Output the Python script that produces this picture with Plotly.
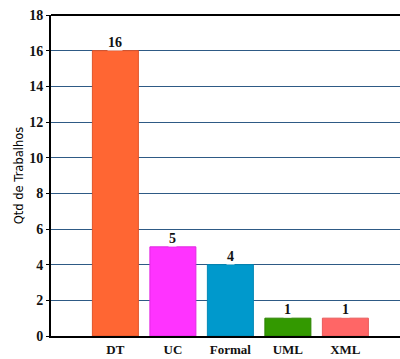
import plotly.graph_objects as go

categories = ["DT", "UC", "Formal", "UML", "XML"]
values = [16, 5, 4, 1, 1]
colors = ["#FF6633", "#FF33FF", "#0099CC", "#339900", "#FF6666"]
border_colors = ["#E0552A", "#E02AE0", "#0088B5", "#2B8200", "#E85A5A"]
y_ticks = [0, 2, 4, 6, 8, 10, 12, 14, 16, 18]

SERIF = "Liberation Serif, Times New Roman, serif"

fig = go.Figure()
fig.add_trace(go.Bar(
    x=categories, y=values,
    marker=dict(color=colors, line=dict(color=border_colors, width=1)),
    width=0.8,
    hoverinfo="skip",
))

for c, v in zip(categories, values):
    fig.add_annotation(
        x=c, y=v, text="<b>%d</b>" % v, showarrow=False, yanchor="bottom", yshift=0,
        font=dict(family=SERIF, size=14, color="#111111"),
        bgcolor="white", borderpad=0,
    )

fig.update_layout(
    width=400, height=359,
    margin=dict(l=51, r=0, t=15, b=23),
    plot_bgcolor="white", paper_bgcolor="white",
    showlegend=False,
    bargap=0.2,
)
fig.update_xaxes(
    type="category",
    range=[-1.12, 4.95],
    showline=True, linecolor="black", linewidth=2,
    showgrid=False, ticks="",
    tickvals=categories,
    ticktext=["<b>%s</b>" % c for c in categories],
    tickfont=dict(family=SERIF, size=13, color="#111111"),
)
fig.update_yaxes(
    range=[0, 18],
    tickvals=y_ticks,
    ticktext=["<b>%d</b>" % t for t in y_ticks],
    showline=True, linecolor="black", linewidth=2,
    showgrid=True, gridcolor="#2E5A85", gridwidth=1,
    ticks="outside", ticklen=3, tickcolor="black",
    tickfont=dict(family=SERIF, size=14, color="#111111"),
    title=dict(text="Qtd de Trabalhos", font=dict(family="DejaVu Sans", size=11.5, color="black"), standoff=3),
    zeroline=False,
)
fig.add_shape(type="line", xref="paper", yref="paper", x0=0, x1=1, y0=1, y1=1,
              line=dict(color="black", width=2))

fig.write_html("out.html")
